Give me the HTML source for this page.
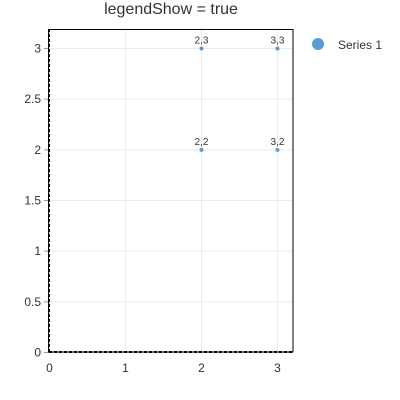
<!DOCTYPE html>
<html><head><meta charset="utf-8"><style>body{margin:0;background:#fff}svg{display:block;font-family:"Liberation Sans",sans-serif}</style></head>
<body>
<svg id="chart" width="400" height="400" xmlns="http://www.w3.org/2000/svg">
<text x="171" y="14" text-anchor="middle" font-size="16" fill="#333">legendShow = true</text>
<g id="grid"></g>
<g id="axes"></g>
<g id="marks"></g>
<g>
<circle cx="318" cy="44" r="6" fill="#5b9bd5"/>
<text x="338" y="49" font-size="12" fill="#333">Series 1</text>
</g>
</svg>
<script>
const xValues=[2,3,2,3];
const yValues=[2,2,3,3];
const pointLabels=["2,2","3,2","2,3","3,3"];
const xTicks=[0,1,2,3];
const yTicks=[0,0.5,1,1.5,2,2.5,3];
const yTickLabels=["0","0.5","1","1.5","2","2.5","3"];
const L=49,R=293,T=29,B=352;
const sx=v=>49.5+v*76;
const sy=v=>352.5-v*101.33;
const NS="http://www.w3.org/2000/svg";
function mk(p,t,a){const e=document.createElementNS(NS,t);for(const k in a)e.setAttribute(k,a[k]);p.appendChild(e);return e;}
const grid=document.getElementById('grid'),axes=document.getElementById('axes'),marks=document.getElementById('marks');
xTicks.forEach(v=>{
 const l=mk(grid,'line',{x1:sx(v),x2:sx(v),y1:T,y2:B,stroke:'#ebebeb'});
 
 
 const t=mk(axes,'text',{x:sx(v),y:372,'text-anchor':'middle','font-size':12,fill:'#333'});t.textContent=v;
 
 
});
yTicks.forEach((v,i)=>{
 const l=mk(grid,'line',{x1:L,x2:R,y1:sy(v),y2:sy(v),stroke:'#ebebeb'});
 
 
 mk(axes,'line',{x1:44,x2:L,y1:sy(v),y2:sy(v),stroke:'#999'});
 const t=mk(axes,'text',{x:41,y:sy(v)+4,'text-anchor':'end','font-size':12,fill:'#333'});t.textContent=yTickLabels[i];
 
 
});
const f=mk(axes,'rect',{x:48.5,y:T+0.5,width:R-48.5,height:B-T-0.5,fill:'none',stroke:'#000','stroke-width':1});


mk(axes,'line',{x1:49,x2:49,y1:T,y2:B,stroke:'#000','stroke-width':2,'stroke-dasharray':'3,2'});
mk(axes,'line',{x1:L,x2:R,y1:352,y2:352,stroke:'#000','stroke-width':2,'stroke-dasharray':'3,2'});
xValues.forEach((x,i)=>{
 const c=mk(marks,'circle',{cx:sx(x),cy:sy(yValues[i]),r:2,fill:'#5b9bd5'});
 
 
 const t=mk(marks,'text',{x:sx(x),y:sy(yValues[i])-5,'text-anchor':'middle','font-size':10,fill:'#333'});t.textContent=pointLabels[i];
 
 
});
</script>
</body></html>
